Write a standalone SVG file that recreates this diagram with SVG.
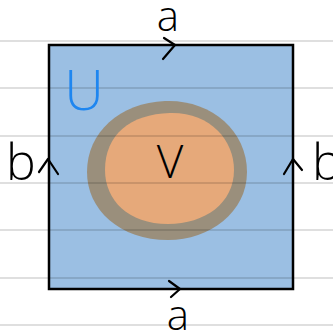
<svg xmlns="http://www.w3.org/2000/svg" width="333" height="332" viewBox="0 0 333 332">
<style>
.lbl{font-family:"Open Sans","Liberation Sans",sans-serif;font-weight:300;fill:#000;text-anchor:middle}
.chev{fill:none;stroke:#000;stroke-width:2.2;stroke-linecap:round;stroke-linejoin:round}
.rule{stroke:#000;stroke-opacity:0.17;stroke-width:1.5}
</style>
<rect width="333" height="332" fill="#ffffff"/>
<g id="square">
<rect x="49" y="45" width="244" height="244" fill="#9bbfe3"/>
</g>
<g id="V-region">
<path d="M165 101 C210 99 247 130 247 172 C247 212 210 240 168 240 C120 240 87 210 87 172 C87 132 120 103 165 101 Z" fill="#9a8f7c"/>
<path d="M170 113 C210 112 234 140 234 170 C234 203 205 224 168 224 C128 224 105 200 105 170 C105 135 130 114 170 113 Z" fill="#e6a97a"/>
</g>
<g id="rules">
<line class="rule" x1="0" y1="41" x2="333" y2="41"/>
<line class="rule" x1="0" y1="88" x2="333" y2="88"/>
<line class="rule" x1="0" y1="136" x2="333" y2="136"/>
<line class="rule" x1="0" y1="183" x2="333" y2="183"/>
<line class="rule" x1="0" y1="230" x2="333" y2="230"/>
<line class="rule" x1="0" y1="278" x2="333" y2="278"/>
<line class="rule" x1="0" y1="325" x2="333" y2="325"/>
</g>
<rect x="49" y="45" width="244" height="244" fill="none" stroke="#000" stroke-width="2.5"/>
<g id="connectors">
<path class="chev" d="M164 38 L175 45 L163 59"/>
<path class="chev" d="M169 281 L180 289 L171 297"/>
<path class="chev" d="M39 172 L48 159 L58 174"/>
<path class="chev" d="M284 174 L293 159 L302 170"/>
</g>
<g id="labels">
<text class="lbl" x="168" y="31" font-size="42">a</text>
<text class="lbl" x="178" y="330" font-size="42">a</text>
<text class="lbl" x="21" y="180" font-size="50">b</text>
<text class="lbl" x="327" y="180" font-size="50">b</text>
<text class="lbl" x="170" y="178" font-size="46">V</text>
<text class="lbl" x="84" y="110" font-size="55" style="fill:#1e86f0">U</text>
</g>
</svg>
